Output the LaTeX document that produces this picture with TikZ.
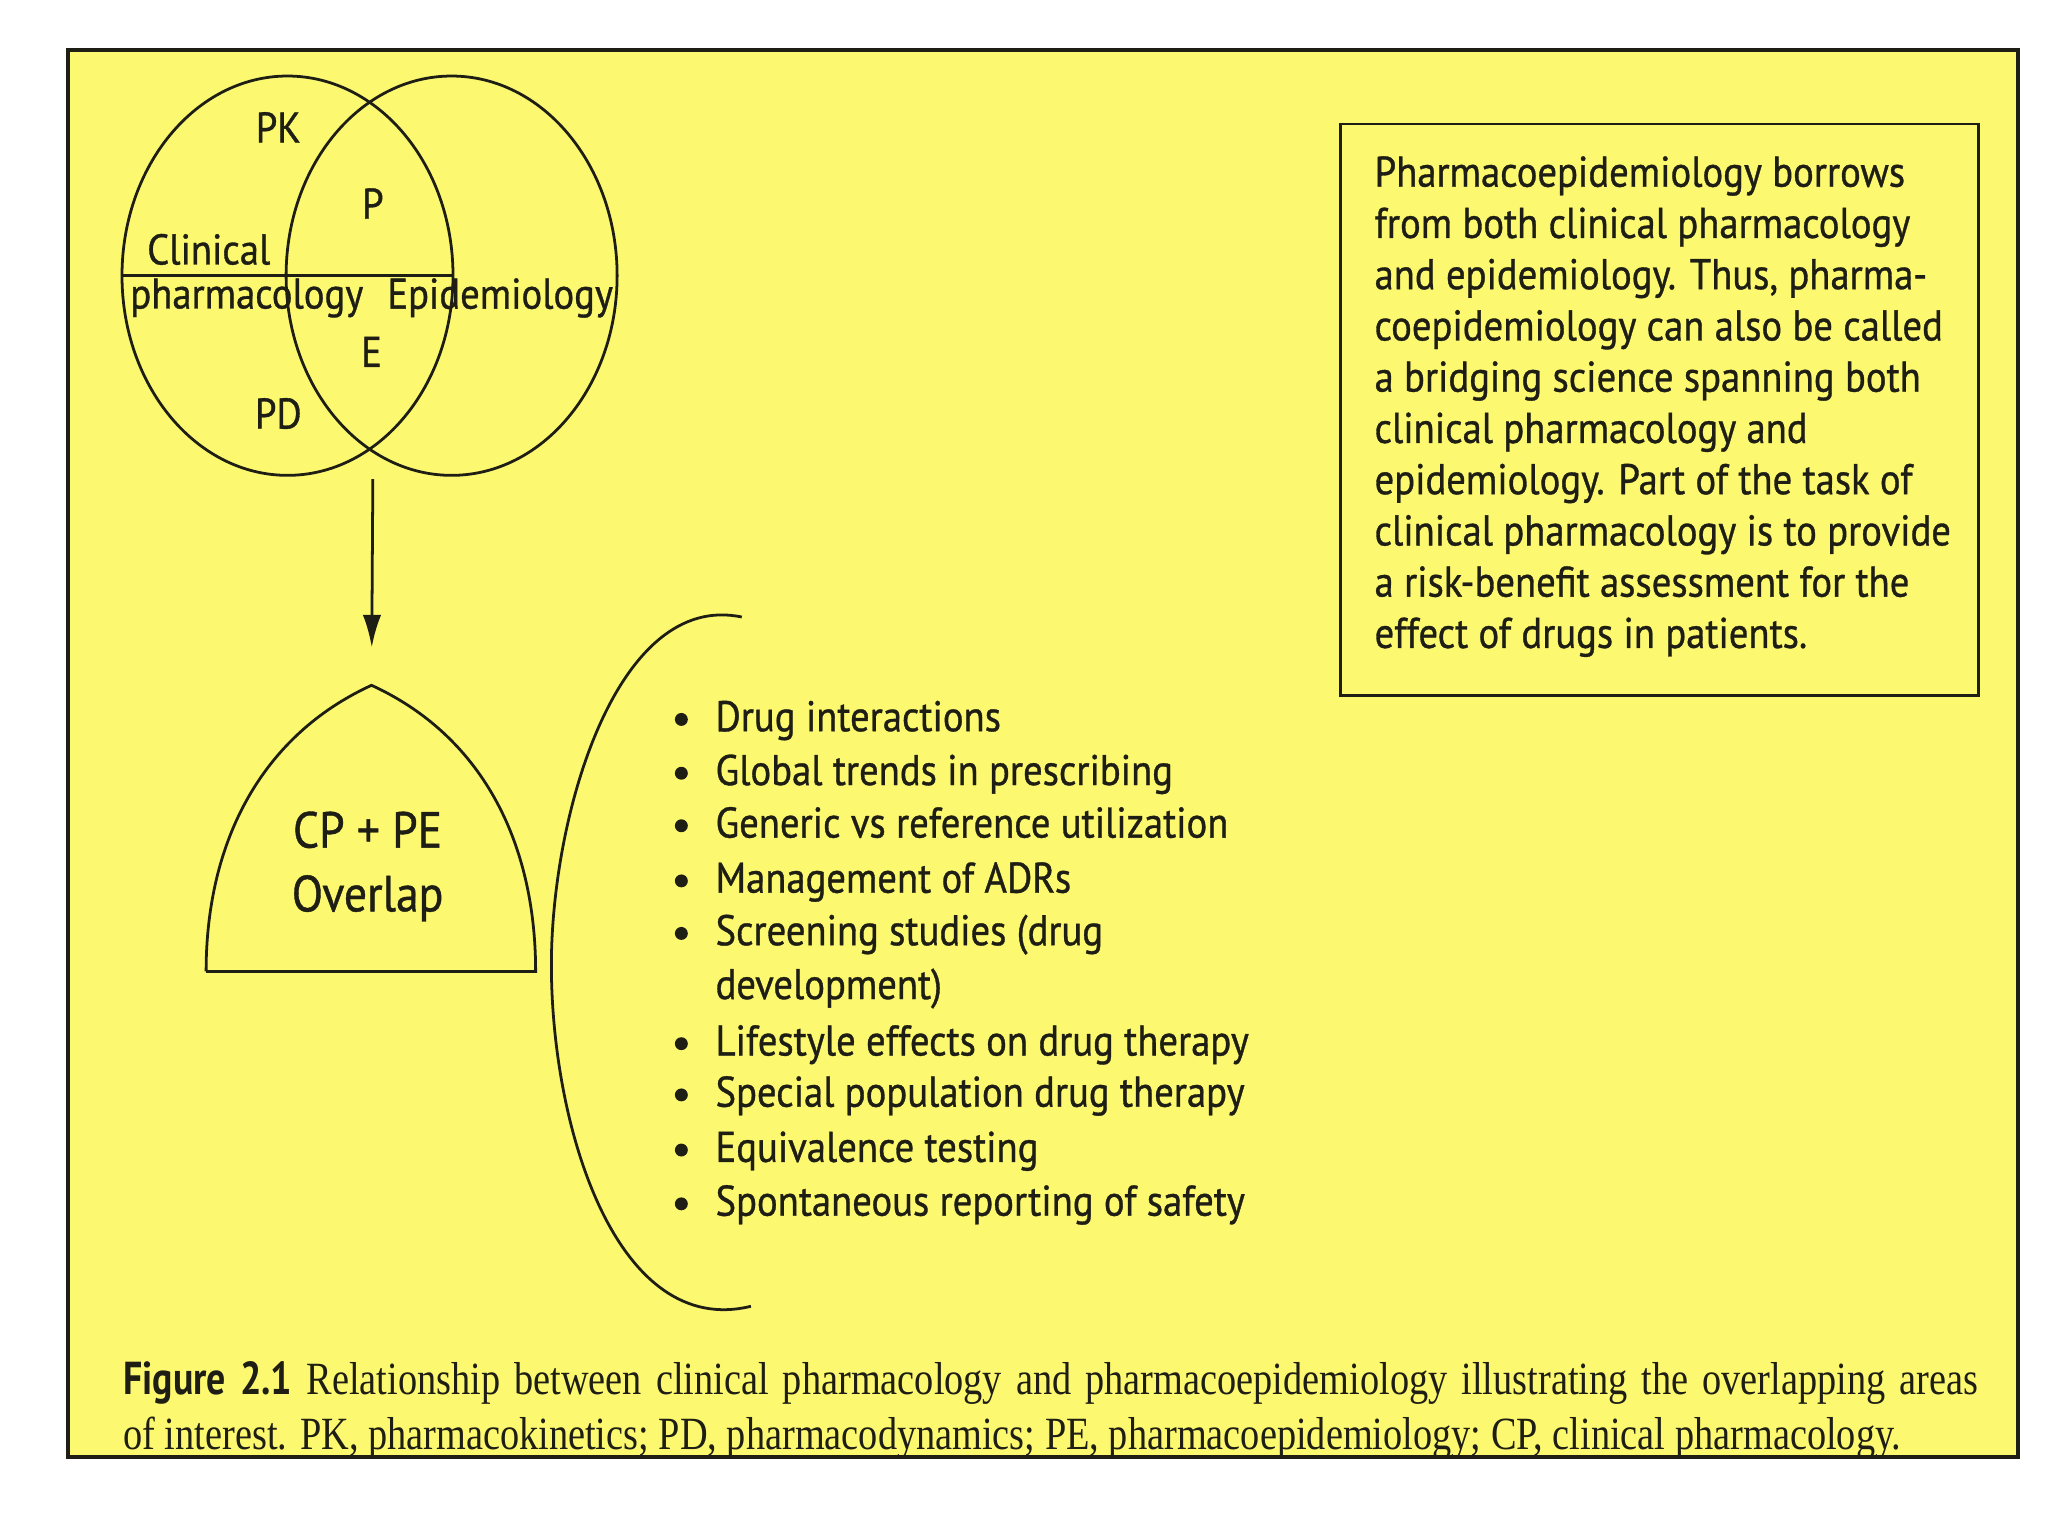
\documentclass[tikz,border=0pt]{standalone}
\usepackage{fontspec}
\usepackage{xcolor}
\usepackage{tikz}
\usetikzlibrary{shapes.geometric,arrows.meta}
\setmainfont{PT Sans}[FakeStretch=0.9, FakeBold=0.8]
\newfontfamily\capserif[FakeStretch=0.83]{Liberation Serif}
\newfontfamily\capsans[FakeStretch=0.82]{PT Sans}
\definecolor{paper}{RGB}{252,248,112}
\definecolor{ink}{RGB}{30,30,20}

\begin{document}
\begin{tikzpicture}[x=0.01cm, y=-0.01cm, line width=0.6pt, draw=ink, text=ink,
    venn/.style={draw, ellipse, minimum width=2.52cm, minimum height=3.04cm, inner sep=0pt},
    lbl/.style={font=\fontsize{9.3}{11}\selectfont, inner sep=0pt},
    item/.style={anchor=base west, font=\fontsize{9.3}{11}\selectfont, inner sep=0pt}]
    \useasboundingbox (0,0) rectangle (1560,1170);
    \fill[white] (0,0) rectangle (1560,1170);
    \draw[fill=paper, line width=0.8pt] (52,38) rectangle (1537,1110);

    % Venn part
    \node[venn] (clin) at (219,210) {};
    \node[venn] (epi) at (344,210) {};
    \draw (clin.west) -- (clin.east);
    \node[lbl] (pk) at (212,97) {PK};
    \node[lbl] (p) at (284,155) {P};
    \node[lbl] (clinical) at (159,190) {Clinical};
    \node[lbl] (pharm) at (188,227) {pharmacology};
    \node[lbl] (epid) at (381,227) {Epidemiology};
    \node[lbl] (e) at (283,268) {E};
    \node[lbl] (pd) at (212,315) {PD};

    % overlap shape
    \coordinate (lensbot) at (284,365);
    \coordinate (apex) at (283,522);
    \draw (157,740) -- (408,740)
        .. controls (408,640) and (366,560) .. (apex)
        .. controls (200,560) and (157,640) .. (157,740);
    \node[font=\fontsize{11}{13.8}\selectfont, align=center] (overlap) at (280,660) {CP + PE\\Overlap};
    \draw[-{Latex[length=7pt,width=4pt]}, shorten >=0.29cm] (lensbot) -- (apex);

    % bracket and list
    \draw (565,470) .. controls (470,450) and (420,620) .. (420,735)
        .. controls (420,860) and (470,1020) .. (572,995);
    \foreach \y/\txt/\b [count=\i] in {548/Drug interactions/1, 589/Global trends in prescribing/1,
        629/Generic vs reference utilization/1, 671/Management of ADRs/1,
        711/Screening studies (drug/1, 752/development)/0,
        795/Lifestyle effects on drug therapy/1, 834/Special population drug therapy/1,
        876/Equivalence testing/1, 917/Spontaneous reporting of safety/1} {
        \node[item] (item\i) at (544,\y+9) {\txt};
        \ifnum\b=1 \fill[ink] (519,\y) circle (1.4pt); \fi
    }

    % text box
    \node[draw, minimum width=4.86cm, minimum height=4.35cm] (note) at (1264,312) {};
    \node[anchor=north west, inner sep=0pt, align=left,
        font=\fontsize{9.3}{11.1}\selectfont] (notetext) at (1046,118) {Pharmacoepidemiology borrows\\
        from both clinical pharmacology\\ and epidemiology. Thus, pharma-\\ coepidemiology can also be called\\
        a bridging science spanning both\\ clinical pharmacology and\\ epidemiology. Part of the task of\\
        clinical pharmacology is to provide\\ a risk-benefit assessment for the\\ effect of drugs in patients.};

    % caption
    \node[anchor=north west, inner sep=0pt, text width=14.12cm, align=justify,
        font=\capserif\fontsize{10}{12}\selectfont] (caption) at (93,1036) {{\capsans\bfseries Figure 2.1}
        Relationship between clinical pharmacology and pharmacoepidemiology illustrating the overlapping areas\linebreak
        of interest. PK, pharmacokinetics; PD, pharmacodynamics; PE, pharmacoepidemiology; CP, clinical pharmacology.};
\end{tikzpicture}
\end{document}
